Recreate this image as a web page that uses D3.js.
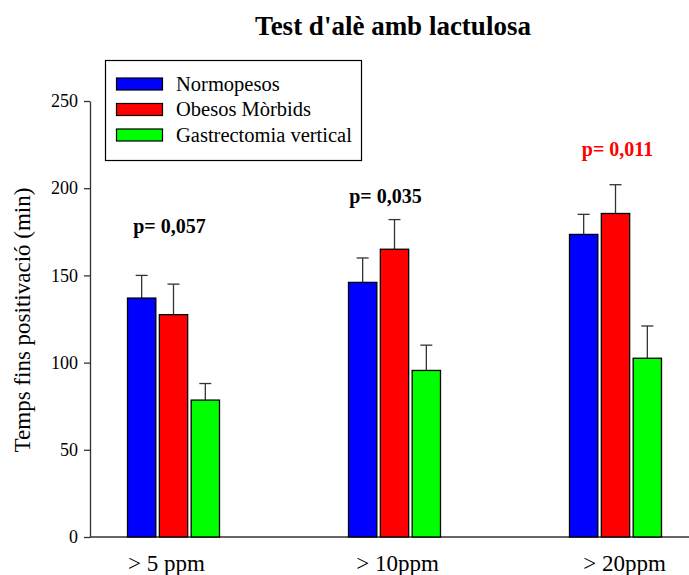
<!DOCTYPE html>
<html>
<head>
<meta charset="utf-8">
<script src="https://cdn.jsdelivr.net/npm/d3@7"></script>
<style>
  html, body { margin: 0; padding: 0; background: #fff; }
  svg { display: block; }
  text { font-family: "Liberation Serif", "Times New Roman", serif; }
</style>
</head>
<body>
<svg id="chart" width="689" height="575"></svg>
<script>
// Breath test thresholds
const categories = ["> 5 ppm", "> 10ppm", "> 20ppm"];
const seriesNames = ["Normopesos", "Obesos Mòrbids", "Gastrectomia vertical"];
const seriesColors = ["#0000ff", "#ff0000", "#00ff00"];
// mean time to positivity (min), per series, per threshold
const normopesos = [137, 146, 173.5];
const obesos = [127.5, 165, 185.5];
const gastrectomia = [78.5, 95.5, 102.5];
// upper end of error bars
const normopesosErr = [150, 160, 185];
const obesosErr = [145, 182, 202];
const gastrectomiaErr = [88, 110, 121];
const yTicks = [0, 50, 100, 150, 200, 250];
const pLabels = ["p= 0,057", "p= 0,035", "p= 0,011"];
const pLabelY = [174.5, 191.5, 218.5];   // value-axis height of the p labels
const pColors = ["#000", "#000", "#ff0000"];

const values = [normopesos, obesos, gastrectomia];
const errs = [normopesosErr, obesosErr, gastrectomiaErr];

// horizontal nudges of the p labels and category labels relative to their group centre
const pShift = [-4, -9, 2];
const catShift = [-7, 3, 9];

const svg = d3.select("#chart");

const y = d3.scaleLinear().domain([0, 250]).range([537, 101]);
const x = d3.scaleBand().domain(categories).range([63, 726]).paddingInner(0).paddingOuter(0);
const inner = d3.scaleBand().domain(d3.range(3)).range([-46, 46]).paddingInner(0.11);

// Title
svg.append("text")
  .attr("x", 393).attr("y", 35)
  .attr("text-anchor", "middle")
  .attr("font-size", 27).attr("font-weight", "bold")
  .text("Test d'alè amb lactulosa");

// Y axis
const yAxis = d3.axisLeft(y).tickValues(yTicks).tickSize(6).tickSizeOuter(0).tickPadding(6);
const gy = svg.append("g").attr("transform", "translate(90,0)").call(yAxis);
gy.select(".domain").attr("stroke", "#333").attr("stroke-width", 1.3);
gy.selectAll(".tick line").attr("stroke", "#333").attr("stroke-width", 1.3);
gy.selectAll(".tick text").attr("font-size", 18).attr("fill", "#000")
  .style("font-family", "Liberation Serif, serif");

// X axis baseline
svg.append("line")
  .attr("x1", 90).attr("x2", 689)
  .attr("y1", y(0)).attr("y2", y(0))
  .attr("stroke", "#333").attr("stroke-width", 1.3);

// Category labels
svg.selectAll(".cat")
  .data(categories)
  .join("text")
  .attr("class", "cat")
  .attr("x", (d, i) => x(d) + x.bandwidth() / 2 + catShift[i])
  .attr("y", 571)
  .attr("text-anchor", "middle")
  .attr("font-size", 23)
  .text(d => d);

// Y axis title
svg.append("text")
  .attr("transform", "translate(30,320) rotate(-90)")
  .attr("text-anchor", "middle")
  .attr("font-size", 23)
  .text("Temps fins positivació (min)");

// Bars and error bars
values.forEach((vals, s) => {
  const g = svg.append("g");
  categories.forEach((c, i) => {
    const cx = x(c) + x.bandwidth() / 2;
    const bx = cx + inner(s);
    const bw = inner.bandwidth();
    const mid = bx + bw / 2;
    // error bar
    g.append("line")
      .attr("x1", mid).attr("x2", mid)
      .attr("y1", y(vals[i])).attr("y2", y(errs[s][i]))
      .attr("stroke", "#333").attr("stroke-width", 1.3);
    g.append("line")
      .attr("x1", mid - 6).attr("x2", mid + 6)
      .attr("y1", y(errs[s][i])).attr("y2", y(errs[s][i]))
      .attr("stroke", "#333").attr("stroke-width", 1.3);
    g.append("rect")
      .attr("x", bx).attr("y", y(vals[i]))
      .attr("width", bw).attr("height", y(0) - y(vals[i]))
      .attr("fill", seriesColors[s])
      .attr("stroke", "#000").attr("stroke-width", 1.3);
  });
});

// p-value labels
svg.selectAll(".pval")
  .data(categories)
  .join("text")
  .attr("class", "pval")
  .attr("x", (d, i) => x(d) + x.bandwidth() / 2 + pShift[i])
  .attr("y", (d, i) => y(pLabelY[i]))
  .attr("text-anchor", "middle")
  .attr("font-size", 20).attr("font-weight", "bold")
  .attr("fill", (d, i) => pColors[i])
  .text((d, i) => pLabels[i]);

// Legend
const legend = svg.append("g");
legend.append("rect")
  .attr("x", 105.5).attr("y", 60.5).attr("width", 256).attr("height", 100)
  .attr("fill", "#fff").attr("stroke", "#000").attr("stroke-width", 1.2);
seriesNames.forEach((name, i) => {
  const cy = 84 + i * 25.5;
  legend.append("rect")
    .attr("x", 116.5).attr("y", cy - 6).attr("width", 46).attr("height", 12)
    .attr("fill", seriesColors[i]).attr("stroke", "#000").attr("stroke-width", 1.2);
  legend.append("text")
    .attr("x", 176).attr("y", cy + 6.5)
    .attr("font-size", 20.5)
    .text(name);
});
</script>
</body>
</html>
